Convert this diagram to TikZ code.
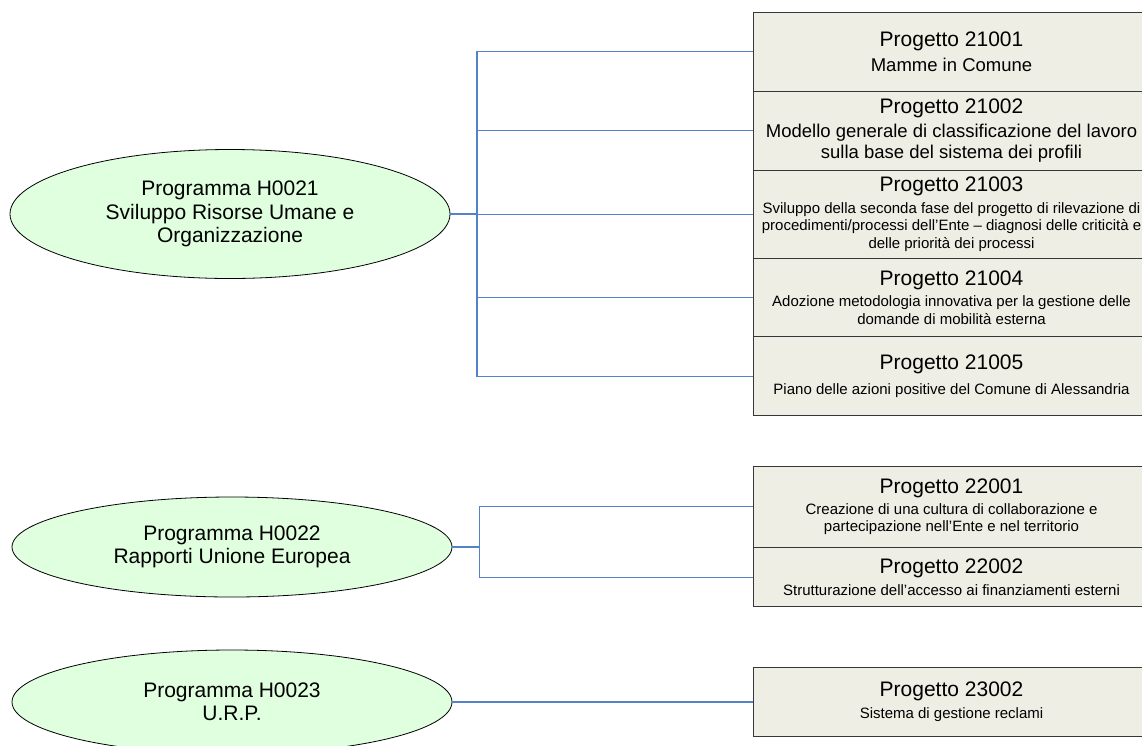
\documentclass[tikz,border=0pt]{standalone}
\usepackage{fontspec}
\setmainfont{Liberation Sans}
\usetikzlibrary{shapes.geometric}
\definecolor{boxfill}{RGB}{238,238,228}
\definecolor{ellfill}{RGB}{223,255,223}
\definecolor{conncol}{RGB}{84,130,200}
\definecolor{boxline}{RGB}{55,55,55}
\newcommand{\progtitle}{\fontsize{21}{24}\selectfont}
\tikzset{
  box/.style={draw=boxline, fill=boxfill, line width=1pt, minimum width=397pt, inner sep=0pt, align=center},
  subA/.style={font=\fontsize{18.5}{21.5}\selectfont},
  subB/.style={font=\fontsize{15}{17.5}\selectfont},
  prog/.style={ellipse, draw=black, fill=ellfill, line width=0.8pt, minimum width=440pt, inner sep=0pt, align=center, font=\fontsize{21}{23.5}\selectfont},
  conn/.style={draw=conncol, line width=1.1pt},
}
\begin{document}
\begin{tikzpicture}[x=1pt,y=-1pt]
\useasboundingbox (0,0) rectangle (1142,745);

% programmes
\node[prog, minimum height=129pt] (e1) at (230,214) {Programma H0021\\Sviluppo Risorse Umane e\\Organizzazione};
\node[prog, minimum height=100pt] (e2) at (232,547) {Programma H0022\\Rapporti Unione Europea};
\node[prog, minimum height=104pt] (e3) at (232,702) {Programma H0023\\U.R.P.};

% projects
\node[box, subA, minimum height=78.5pt] (b1) at (951.5,51.75) {\progtitle Progetto 21001\\[3.5pt]Mamme in Comune};
\node[box, subA, minimum height=79pt] (b2) at (951.5,130.5) {\progtitle Progetto 21002\\[2.5pt]Modello generale di classificazione del lavoro\\sulla base del sistema dei profili};
\node[box, subB, minimum height=88.3pt] (b3) at (951.5,214.2) {\progtitle Progetto 21003\\[4pt]Sviluppo della seconda fase del progetto di rilevazione di\\procedimenti/processi dell’Ente – diagnosi delle criticità e\\delle priorità dei processi};
\node[box, subB, minimum height=78.4pt] (b4) at (951.5,297.5) {\progtitle Progetto 21004\\[4pt]Adozione metodologia innovativa per la gestione delle\\domande di mobilità esterna};
\node[box, subB, minimum height=79.3pt] (b5) at (951.5,376.3) {\progtitle Progetto 21005\\[7pt]Piano delle azioni positive del Comune di Alessandria};

\node[box, subB, minimum height=81.7pt] (b6) at (951.5,506.9) {\progtitle Progetto 22001\\[3pt]Creazione di una cultura di collaborazione e\\partecipazione nell’Ente e nel territorio};
\node[box, subB, minimum height=59.3pt] (b7) at (951.5,577.3) {\progtitle Progetto 22002\\[4pt]Strutturazione dell’accesso ai finanziamenti esterni};

\node[box, subB, minimum height=69pt] (b8) at (951.5,701.5) {\progtitle Progetto 23002\\[4pt]Sistema di gestione reclami};

% connectors
\coordinate (j1) at (477,214);
\draw[conn] (e1.east) -- (j1);
\foreach \b in {b1,b2,b3,b4,b5} \draw[conn] (j1) |- (\b.west);

\coordinate (j2) at (479.5,547);
\draw[conn] (e2.east) -- (j2);
\foreach \b in {b6,b7} \draw[conn] (j2) |- (\b.west);

\draw[conn] (e3.east) -- (e3.east -| b8.west);
\end{tikzpicture}
\end{document}
